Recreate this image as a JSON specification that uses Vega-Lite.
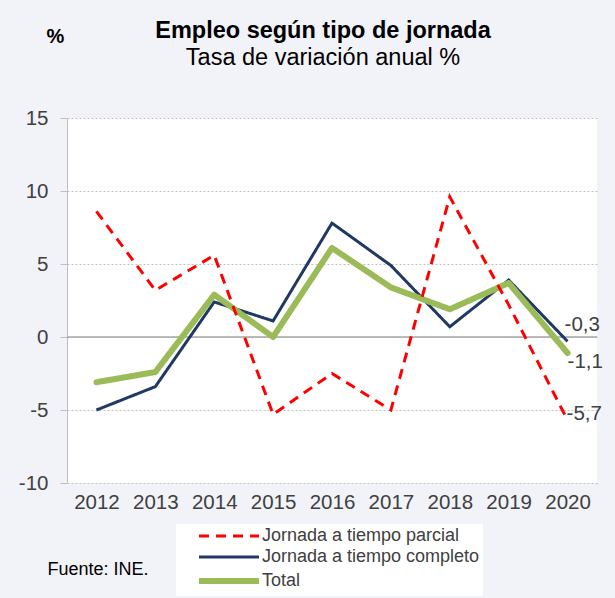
{
  "$schema": "https://vega.github.io/schema/vega-lite/v6.json",
  "width": 530,
  "height": 365,
  "autosize": {"type": "none"},
  "padding": {"left": 67, "top": 118, "right": 18, "bottom": 115},
  "background": "#f2f3f8",
  "config": {
    "font": "Liberation Sans",
    "view": {"fill": "white", "stroke": null},
    "locale": {"number": {"decimal": ",", "thousands": ".", "grouping": [3], "currency": ["", " €"], "minus": "-"}}
  },
  "title": {
    "text": "Empleo según tipo de jornada",
    "subtitle": "Tasa de variación anual %",
    "fontSize": 23.5,
    "fontWeight": "bold",
    "color": "black",
    "subtitleFontSize": 23.5,
    "subtitleColor": "black",
    "subtitlePadding": 3,
    "anchor": "middle",
    "frame": "group",
    "dx": -9,
    "dy": 47
  },
  "datasets": {
    "main": [
      {"series": "Jornada a tiempo parcial", "year": "2012", "value": 8.6},
      {"series": "Jornada a tiempo parcial", "year": "2013", "value": 3.2},
      {"series": "Jornada a tiempo parcial", "year": "2014", "value": 5.6},
      {"series": "Jornada a tiempo parcial", "year": "2015", "value": -5.3},
      {"series": "Jornada a tiempo parcial", "year": "2016", "value": -2.5},
      {"series": "Jornada a tiempo parcial", "year": "2017", "value": -5.0},
      {"series": "Jornada a tiempo parcial", "year": "2018", "value": 9.6},
      {"series": "Jornada a tiempo parcial", "year": "2019", "value": 2.2},
      {"series": "Jornada a tiempo parcial", "year": "2020", "value": -5.7},
      {"series": "Jornada a tiempo completo", "year": "2012", "value": -5.0},
      {"series": "Jornada a tiempo completo", "year": "2013", "value": -3.4},
      {"series": "Jornada a tiempo completo", "year": "2014", "value": 2.4},
      {"series": "Jornada a tiempo completo", "year": "2015", "value": 1.1},
      {"series": "Jornada a tiempo completo", "year": "2016", "value": 7.8},
      {"series": "Jornada a tiempo completo", "year": "2017", "value": 4.9},
      {"series": "Jornada a tiempo completo", "year": "2018", "value": 0.7},
      {"series": "Jornada a tiempo completo", "year": "2019", "value": 3.9},
      {"series": "Jornada a tiempo completo", "year": "2020", "value": -0.3},
      {"series": "Total", "year": "2012", "value": -3.1},
      {"series": "Total", "year": "2013", "value": -2.4},
      {"series": "Total", "year": "2014", "value": 2.9},
      {"series": "Total", "year": "2015", "value": 0.0},
      {"series": "Total", "year": "2016", "value": 6.1},
      {"series": "Total", "year": "2017", "value": 3.4},
      {"series": "Total", "year": "2018", "value": 1.9},
      {"series": "Total", "year": "2019", "value": 3.7},
      {"series": "Total", "year": "2020", "value": -1.1}
    ]
  },
  "layer": [
    {
      "data": {"values": [{}]},
      "mark": {"type": "rule", "color": "#a6a6a6", "strokeWidth": 1.5},
      "encoding": {"y": {"datum": 0, "type": "quantitative", "scale": {"domain": [-10, 15], "nice": false}}}
    },
    {
      "data": {"name": "main"},
      "transform": [{"filter": "datum.series == 'Jornada a tiempo completo'"}],
      "mark": {"type": "line", "strokeJoin": "miter", "strokeWidth": 3},
      "encoding": {
        "x": {"field": "year", "type": "ordinal", "scale": {"type": "point", "padding": 0.5},
          "axis": {"title": "Fuente: INE.", "titleFontSize": 18, "titleFontWeight": "normal", "titleColor": "black", "titleAnchor": "start", "titleAlign": "left", "titleBaseline": "alphabetic", "titleX": -20, "titleY": 91,
            "domain": false, "ticks": false, "labelAngle": 0, "labelFontSize": 20.5, "labelColor": "#404040", "labelPadding": 9, "grid": false}},
        "y": {"field": "value", "type": "quantitative", "scale": {"domain": [-10, 15], "nice": false},
          "axis": {"values": [-10, -5, 0, 5, 10, 15], "title": "%", "titleAngle": 0, "titleFontSize": 20, "titleFontWeight": "bold", "titleColor": "black", "titleAlign": "center", "titleBaseline": "alphabetic", "titleX": -12, "titleY": -76,
            "domainColor": "#bfbfbf", "tickColor": "#bfbfbf", "tickSize": 7, "labelFontSize": 20.5, "labelColor": "#404040", "labelPadding": 12,
            "grid": true, "gridColor": "#bfbfbf", "gridDash": [2, 2], "gridWidth": 1}},
        "color": {"field": "series", "type": "nominal",
          "scale": {"domain": ["Jornada a tiempo parcial", "Jornada a tiempo completo", "Total"], "range": ["#ff0000", "#1f3864", "#9bbb59"]},
          "legend": {"orient": "none", "legendX": 109, "legendY": 406, "title": null, "fillColor": "white", "padding": 3,
            "symbolType": "M-30,0H30", "symbolSize": 4, "labelFontSize": 18, "labelLimit": 500, "labelColor": "#404040",
            "labelOffset": 24, "symbolOffset": 41, "rowPadding": 3,
            "encode": {"symbols": {"update": {"strokeWidth": {"signal": "datum.value === 'Total' ? 6 : 3"}}}}}},
        "strokeDash": {"field": "series", "type": "nominal",
          "scale": {"type": "ordinal", "domain": ["Jornada a tiempo parcial", "Jornada a tiempo completo", "Total"], "range": [[10, 7], [1, 0], [1, 0]]}}
      }
    },
    {
      "data": {"name": "main"},
      "transform": [{"filter": "datum.series == 'Total'"}],
      "mark": {"type": "line", "strokeJoin": "round", "strokeCap": "round", "strokeWidth": 6},
      "encoding": {
        "x": {"field": "year", "type": "ordinal"},
        "y": {"field": "value", "type": "quantitative"},
        "color": {"field": "series", "type": "nominal"},
        "strokeDash": {"field": "series", "type": "nominal"}
      }
    },
    {
      "data": {"name": "main"},
      "transform": [{"filter": "datum.series == 'Jornada a tiempo parcial'"}],
      "mark": {"type": "line", "strokeJoin": "miter", "strokeWidth": 3},
      "encoding": {
        "x": {"field": "year", "type": "ordinal"},
        "y": {"field": "value", "type": "quantitative"},
        "color": {"field": "series", "type": "nominal"},
        "strokeDash": {"field": "series", "type": "nominal"}
      }
    },
    {
      "data": {"name": "main"},
      "transform": [{"filter": "datum.year == '2020' && datum.series == 'Jornada a tiempo completo'"}],
      "mark": {"type": "text", "align": "left", "baseline": "middle", "dx": -3, "dy": -16, "fontSize": 20.5, "color": "#404040"},
      "encoding": {
        "x": {"field": "year", "type": "ordinal"},
        "y": {"field": "value", "type": "quantitative"},
        "text": {"field": "value", "type": "quantitative", "format": ".1f"}
      }
    },
    {
      "data": {"name": "main"},
      "transform": [{"filter": "datum.year == '2020' && datum.series == 'Total'"}],
      "mark": {"type": "text", "align": "left", "baseline": "middle", "dx": 0, "dy": 9, "fontSize": 20.5, "color": "#404040"},
      "encoding": {
        "x": {"field": "year", "type": "ordinal"},
        "y": {"field": "value", "type": "quantitative"},
        "text": {"field": "value", "type": "quantitative", "format": ".1f"}
      }
    },
    {
      "data": {"name": "main"},
      "transform": [{"filter": "datum.year == '2020' && datum.series == 'Jornada a tiempo parcial'"}],
      "mark": {"type": "text", "align": "left", "baseline": "middle", "dx": -1, "dy": -6, "fontSize": 20.5, "color": "#404040"},
      "encoding": {
        "x": {"field": "year", "type": "ordinal"},
        "y": {"field": "value", "type": "quantitative"},
        "text": {"field": "value", "type": "quantitative", "format": ".1f"}
      }
    }
  ]
}
